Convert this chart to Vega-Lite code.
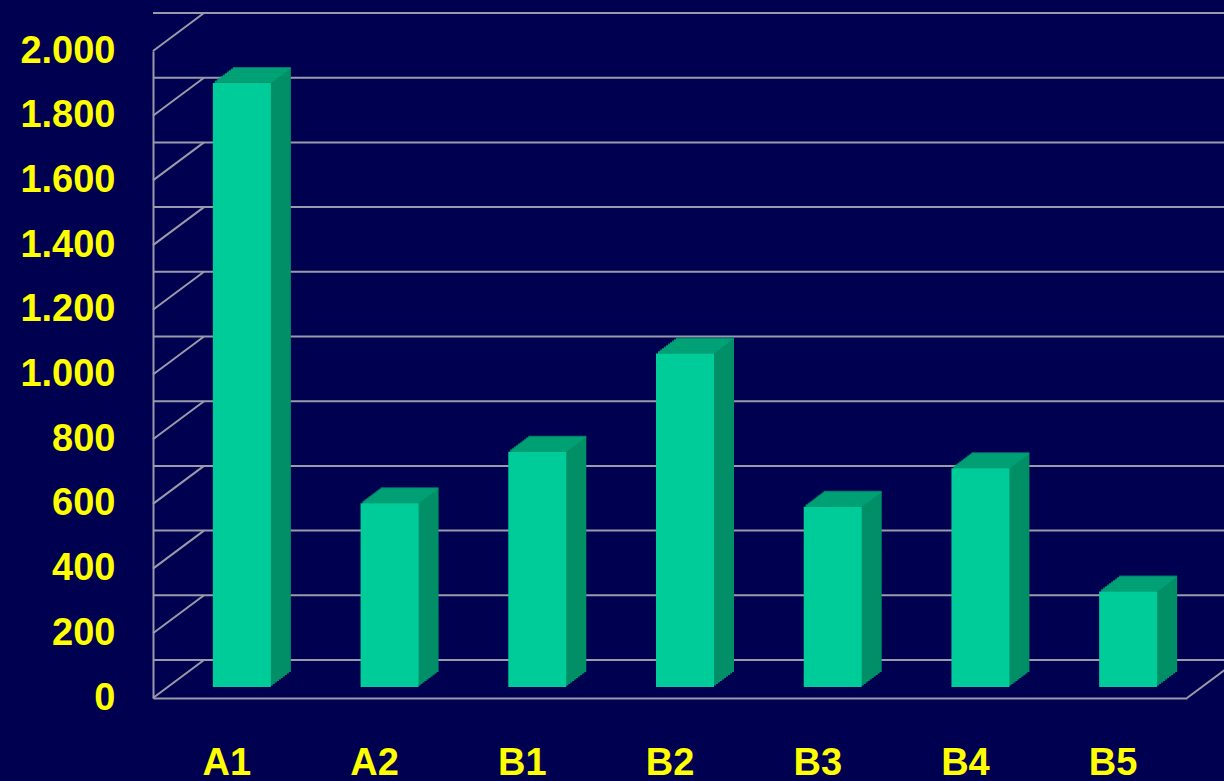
{
  "$schema": "https://vega.github.io/schema/vega-lite/v6.json",
  "width": 1034,
  "height": 647,
  "autosize": {"type": "none"},
  "padding": {"left": 153, "top": 51, "right": 37, "bottom": 83},
  "background": "#000050",
  "config": {
    "view": {"stroke": null},
    "axis": {"ticks": false, "grid": false, "domain": true, "domainColor": "#9a9aaa", "domainWidth": 2, "labelColor": "#ffff00", "labelFont": "Liberation Sans", "labelFontWeight": "bold", "labelFontSize": 38, "titleColor": "#000050"}
  },
  "datasets": {
    "grid": [{"v": 0}, {"v": 200}, {"v": 400}, {"v": 600}, {"v": 800}, {"v": 1000}, {"v": 1200}, {"v": 1400}, {"v": 1600}, {"v": 1800}, {"v": 2000}],
    "bars": [
      {"cat": "A1", "value": 1867},
      {"cat": "A2", "value": 568},
      {"cat": "B1", "value": 727},
      {"cat": "B2", "value": 1031},
      {"cat": "B3", "value": 557},
      {"cat": "B4", "value": 676},
      {"cat": "B5", "value": 295}
    ]
  },
  "layer": [
    {
      "data": {"name": "grid"},
      "mark": {"type": "rule", "color": "#9a9aaa", "strokeWidth": 2, "xOffset": 51, "x2Offset": 51, "yOffset": -38},
      "encoding": {
        "y": {"field": "v", "type": "quantitative", "title": null, "scale": {"domain": [0, 2000], "nice": false},
          "axis": {"title": null, "values": [0, 200, 400, 600, 800, 1000, 1200, 1400, 1600, 1800, 2000], "labelExpr": "replace(format(datum.value, ',d'), ',', '.')", "labelPadding": 38}}
      }
    },
    {
      "data": {"name": "grid"},
      "mark": {"type": "rule", "color": "#9a9aaa", "strokeWidth": 2, "x2Offset": 51, "y2Offset": -38},
      "encoding": {
        "x": {"value": 0},
        "x2": {"value": 0},
        "y": {"field": "v", "type": "quantitative", "title": null},
        "y2": {"field": "v"}
      }
    },
    {
      "data": {"name": "grid"},
      "transform": [{"filter": "datum.v == 0"}],
      "mark": {"type": "rule", "color": "#9a9aaa", "strokeWidth": 2, "x2Offset": 51, "y2Offset": -38},
      "encoding": {
        "x": {"value": "width"},
        "x2": {"value": "width"},
        "y": {"field": "v", "type": "quantitative", "title": null},
        "y2": {"field": "v"}
      }
    },
    {"data": {"name": "bars"}, "mark": {"type": "bar", "size": 58, "color": "#008f66", "xOffset": 35, "yOffset": -26, "y2Offset": -26}, "encoding": {"x": {"field": "cat", "type": "nominal", "sort": null, "title": null, "scale": {"paddingInner": 0, "paddingOuter": 0}, "axis": {"title": null, "labelAngle": 0, "labelPadding": 46}}, "y": {"field": "value", "type": "quantitative", "title": null}}},
    {"data": {"name": "bars"}, "mark": {"type": "bar", "size": 58, "color": "#008f66", "xOffset": 33, "yOffset": -24.5, "y2Offset": -24.5}, "encoding": {"x": {"field": "cat", "type": "nominal", "sort": null, "title": null}, "y": {"field": "value", "type": "quantitative", "title": null}}},
    {"data": {"name": "bars"}, "mark": {"type": "bar", "size": 58, "color": "#008f66", "xOffset": 31, "yOffset": -23, "y2Offset": -23}, "encoding": {"x": {"field": "cat", "type": "nominal", "sort": null, "title": null}, "y": {"field": "value", "type": "quantitative", "title": null}}},
    {"data": {"name": "bars"}, "mark": {"type": "bar", "size": 58, "color": "#008f66", "xOffset": 29, "yOffset": -21.5, "y2Offset": -21.5}, "encoding": {"x": {"field": "cat", "type": "nominal", "sort": null, "title": null}, "y": {"field": "value", "type": "quantitative", "title": null}}},
    {"data": {"name": "bars"}, "mark": {"type": "bar", "size": 58, "color": "#008f66", "xOffset": 27, "yOffset": -20, "y2Offset": -20}, "encoding": {"x": {"field": "cat", "type": "nominal", "sort": null, "title": null}, "y": {"field": "value", "type": "quantitative", "title": null}}},
    {"data": {"name": "bars"}, "mark": {"type": "bar", "size": 58, "color": "#008f66", "xOffset": 25, "yOffset": -18.5, "y2Offset": -18.5}, "encoding": {"x": {"field": "cat", "type": "nominal", "sort": null, "title": null}, "y": {"field": "value", "type": "quantitative", "title": null}}},
    {"data": {"name": "bars"}, "mark": {"type": "bar", "size": 58, "color": "#008f66", "xOffset": 23, "yOffset": -17, "y2Offset": -17}, "encoding": {"x": {"field": "cat", "type": "nominal", "sort": null, "title": null}, "y": {"field": "value", "type": "quantitative", "title": null}}},
    {"data": {"name": "bars"}, "mark": {"type": "bar", "size": 58, "color": "#008f66", "xOffset": 21, "yOffset": -15.5, "y2Offset": -15.5}, "encoding": {"x": {"field": "cat", "type": "nominal", "sort": null, "title": null}, "y": {"field": "value", "type": "quantitative", "title": null}}},
    {"data": {"name": "bars"}, "mark": {"type": "bar", "size": 58, "color": "#008f66", "xOffset": 19, "yOffset": -14, "y2Offset": -14}, "encoding": {"x": {"field": "cat", "type": "nominal", "sort": null, "title": null}, "y": {"field": "value", "type": "quantitative", "title": null}}},
    {"data": {"name": "bars"}, "mark": {"type": "bar", "size": 58, "color": "#008f66", "xOffset": 17, "yOffset": -12.5, "y2Offset": -12.5}, "encoding": {"x": {"field": "cat", "type": "nominal", "sort": null, "title": null}, "y": {"field": "value", "type": "quantitative", "title": null}}},
    {"data": {"name": "bars"}, "mark": {"type": "tick", "size": 58, "thickness": 2, "color": "#00a67a", "xOffset": 35, "yOffset": -26}, "encoding": {"x": {"field": "cat", "type": "nominal", "sort": null, "title": null}, "y": {"field": "value", "type": "quantitative", "title": null}}},
    {"data": {"name": "bars"}, "mark": {"type": "tick", "size": 58, "thickness": 2, "color": "#00a67a", "xOffset": 33, "yOffset": -24.5}, "encoding": {"x": {"field": "cat", "type": "nominal", "sort": null, "title": null}, "y": {"field": "value", "type": "quantitative", "title": null}}},
    {"data": {"name": "bars"}, "mark": {"type": "tick", "size": 58, "thickness": 2, "color": "#00a67a", "xOffset": 31, "yOffset": -23}, "encoding": {"x": {"field": "cat", "type": "nominal", "sort": null, "title": null}, "y": {"field": "value", "type": "quantitative", "title": null}}},
    {"data": {"name": "bars"}, "mark": {"type": "tick", "size": 58, "thickness": 2, "color": "#00a67a", "xOffset": 29, "yOffset": -21.5}, "encoding": {"x": {"field": "cat", "type": "nominal", "sort": null, "title": null}, "y": {"field": "value", "type": "quantitative", "title": null}}},
    {"data": {"name": "bars"}, "mark": {"type": "tick", "size": 58, "thickness": 2, "color": "#00a67a", "xOffset": 27, "yOffset": -20}, "encoding": {"x": {"field": "cat", "type": "nominal", "sort": null, "title": null}, "y": {"field": "value", "type": "quantitative", "title": null}}},
    {"data": {"name": "bars"}, "mark": {"type": "tick", "size": 58, "thickness": 2, "color": "#00a67a", "xOffset": 25, "yOffset": -18.5}, "encoding": {"x": {"field": "cat", "type": "nominal", "sort": null, "title": null}, "y": {"field": "value", "type": "quantitative", "title": null}}},
    {"data": {"name": "bars"}, "mark": {"type": "tick", "size": 58, "thickness": 2, "color": "#00a67a", "xOffset": 23, "yOffset": -17}, "encoding": {"x": {"field": "cat", "type": "nominal", "sort": null, "title": null}, "y": {"field": "value", "type": "quantitative", "title": null}}},
    {"data": {"name": "bars"}, "mark": {"type": "tick", "size": 58, "thickness": 2, "color": "#00a67a", "xOffset": 21, "yOffset": -15.5}, "encoding": {"x": {"field": "cat", "type": "nominal", "sort": null, "title": null}, "y": {"field": "value", "type": "quantitative", "title": null}}},
    {"data": {"name": "bars"}, "mark": {"type": "tick", "size": 58, "thickness": 2, "color": "#00a67a", "xOffset": 19, "yOffset": -14}, "encoding": {"x": {"field": "cat", "type": "nominal", "sort": null, "title": null}, "y": {"field": "value", "type": "quantitative", "title": null}}},
    {"data": {"name": "bars"}, "mark": {"type": "tick", "size": 58, "thickness": 2, "color": "#00a67a", "xOffset": 17, "yOffset": -12.5}, "encoding": {"x": {"field": "cat", "type": "nominal", "sort": null, "title": null}, "y": {"field": "value", "type": "quantitative", "title": null}}},
    {
      "data": {"name": "bars"},
      "mark": {"type": "bar", "size": 58, "color": "#00cc99", "xOffset": 15, "yOffset": -11, "y2Offset": -11},
      "encoding": {
        "x": {"field": "cat", "type": "nominal", "sort": null, "title": null},
        "y": {"field": "value", "type": "quantitative", "title": null}
      }
    }
  ]
}
